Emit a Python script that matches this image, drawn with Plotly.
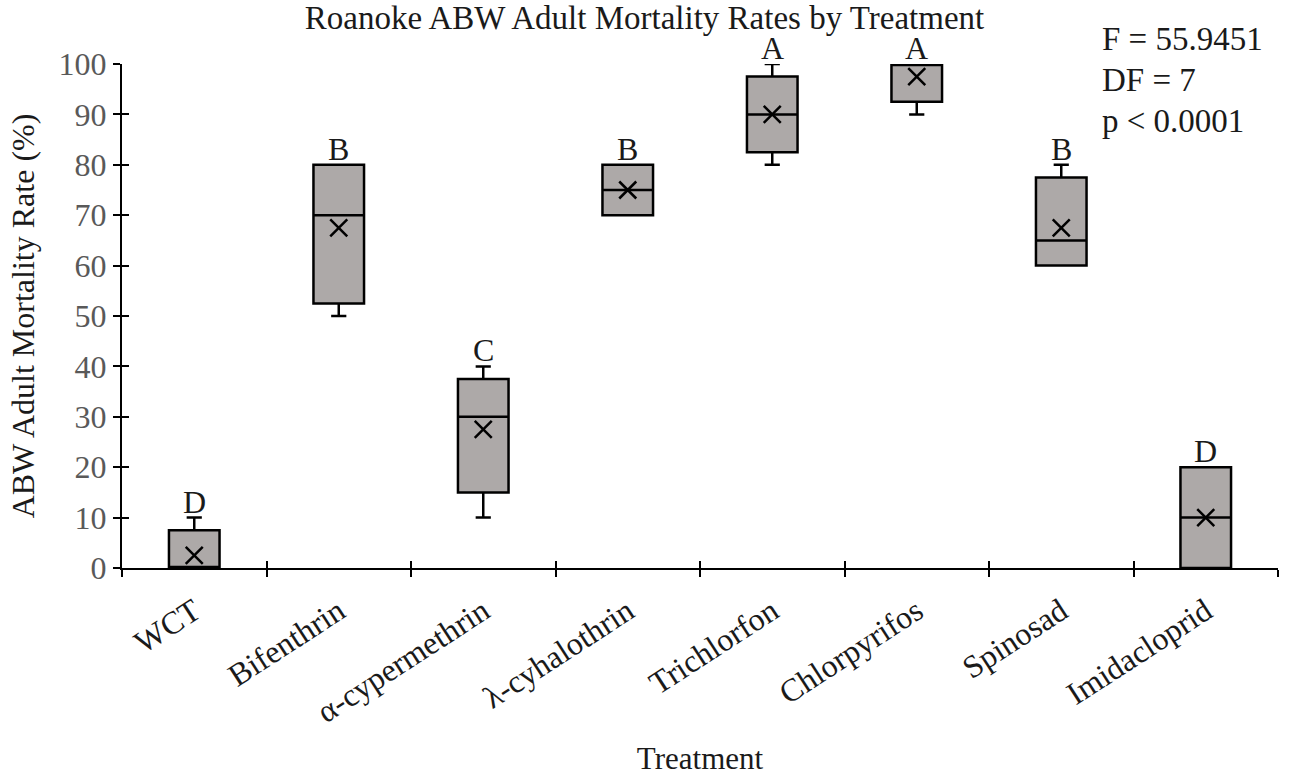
import plotly.graph_objects as go

categories = ["WCT", "Bifenthrin", "α-cypermethrin", "λ-cyhalothrin",
              "Trichlorfon", "Chlorpyrifos", "Spinosad", "Imidacloprid"]
lower = [0, 50, 10, 70, 80, 90, 60, 0]
q1 = [0, 52.5, 15, 70, 82.5, 92.5, 60, 0]
median = [0, 70, 30, 75, 90, 100, 65, 10]
q3 = [7.5, 80, 37.5, 80, 97.5, 100, 77.5, 20]
upper = [10, 80, 40, 80, 100, 100, 80, 20]
mean = [2.5, 67.5, 27.5, 75, 90, 97.5, 67.5, 10]
letters = ["D", "B", "C", "B", "A", "A", "B", "D"]
y_ticks = [0, 10, 20, 30, 40, 50, 60, 70, 80, 90, 100]
stats_lines = ["F = 55.9451", "DF = 7", "p < 0.0001"]
stats_y = [1.05, 0.969, 0.886]

FONT = "Liberation Serif, Times New Roman, serif"
GRAY = "#595959"
TXT = "#1a1a1a"

fig = go.Figure()
fig.add_trace(go.Box(
    x=categories, q1=q1, median=median, q3=q3,
    lowerfence=lower, upperfence=upper,
    fillcolor="#ADA9A8", line=dict(color="black", width=2.5),
    whiskerwidth=0.3, boxpoints=False, showlegend=False, hoverinfo="skip",
))
fig.add_trace(go.Scatter(
    x=categories, y=mean, mode="markers",
    marker=dict(symbol="x-thin", size=17, line=dict(color="black", width=2.5)),
    showlegend=False, hoverinfo="skip",
))
# invisible trace on overlay axes to draw crossing ticks
fig.add_trace(go.Scatter(x=[None], y=[None], xaxis="x2", yaxis="y2",
                         showlegend=False, hoverinfo="skip"))

for c, up, L in zip(categories, upper, letters):
    fig.add_annotation(x=c, y=up, text=L, showarrow=False, yanchor="bottom",
                       yshift=-4, font=dict(family=FONT, size=32, color=TXT))

for line, yy in zip(stats_lines, stats_y):
    fig.add_annotation(xref="paper", yref="paper", x=0.846, y=yy,
                       xanchor="left", yanchor="middle", align="left",
                       text=line, showarrow=False,
                       font=dict(family=FONT, size=33, color=TXT))

fig.update_layout(
    width=1289, height=776,
    margin=dict(l=122, r=11, t=64, b=208, autoexpand=False),
    paper_bgcolor="white", plot_bgcolor="white",
    boxgap=0.5,
    font=dict(family=FONT, color=TXT),
    title=dict(text="Roanoke ABW Adult Mortality Rates by Treatment",
               x=0.5, xanchor="center", y=0.977, yanchor="middle",
               font=dict(family=FONT, size=33, color=TXT)),
    xaxis=dict(type="category", categoryorder="array", categoryarray=categories,
               tickson="boundaries", ticks="outside", ticklen=7, tickwidth=2,
               tickcolor="black", showline=True, linecolor="black", linewidth=2,
               showgrid=False, tickangle=-33, range=[-0.5, 7.5],
               ticklabelstandoff=10, automargin=False,
               tickfont=dict(family=FONT, size=32, color=TXT),
               title=dict(text="Treatment", standoff=34,
                          font=dict(family=FONT, size=31, color=TXT))),
    yaxis=dict(range=[0, 100], tickvals=y_ticks, ticks="outside", ticklen=7,
               tickwidth=2, tickcolor="black", showline=True, linecolor="black",
               linewidth=2, showgrid=False, zeroline=False, automargin=False,
               tickfont=dict(family=FONT, size=32, color=GRAY),
               title=dict(text="ABW Adult Mortality Rate (%)", standoff=14,
                          font=dict(family=FONT, size=32, color=TXT))),
    xaxis2=dict(overlaying="x", anchor="y", range=[-0.5, 7.5],
                tickvals=[i - 0.5 for i in range(len(categories) + 1)],
                ticks="inside", ticklen=7, tickwidth=2, tickcolor="black",
                showticklabels=False, showline=False, showgrid=False,
                zeroline=False, automargin=False),
    yaxis2=dict(overlaying="y", anchor="x", side="left", range=[0, 100],
                tickvals=y_ticks, ticks="inside", ticklen=7, tickwidth=2,
                tickcolor="black", showticklabels=False, showline=False,
                showgrid=False, zeroline=False, automargin=False),
)

fig.write_html("out.html")
